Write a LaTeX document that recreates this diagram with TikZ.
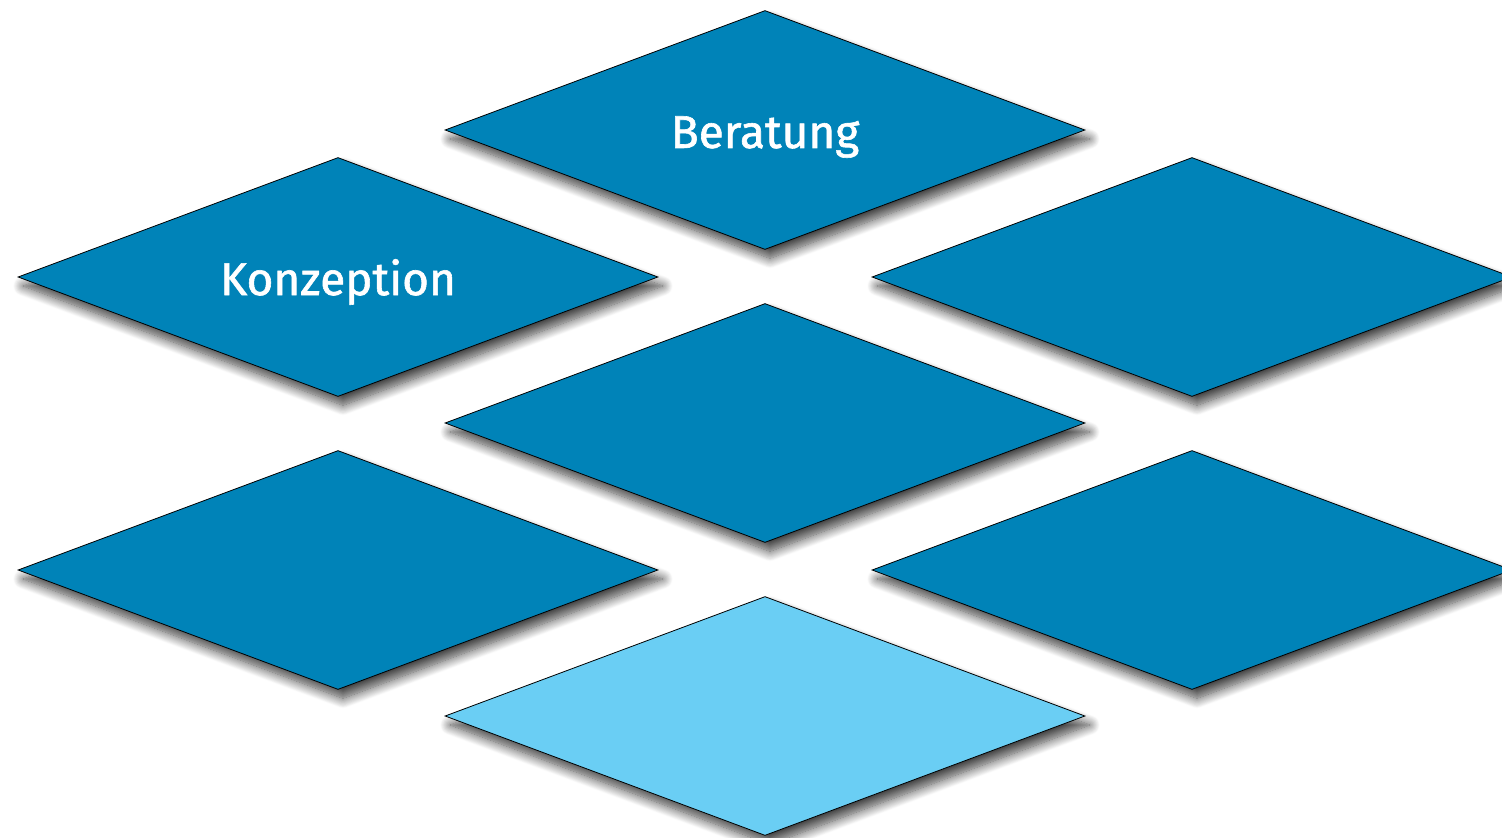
\documentclass[tikz,border=0pt]{standalone}
\usepackage{fontspec}
\setmainfont{Fira Sans}
\newfontfamily\tilefont[FakeBold=1.3]{Fira Sans}
\usetikzlibrary{shapes.geometric,shadows.blur}
\definecolor{tileblue}{HTML}{0083B8}
\definecolor{tilelight}{HTML}{6ACEF4}
\tikzset{
  tile/.style={diamond, draw=black, line width=0.8pt, fill=tileblue,
    minimum width=640pt, minimum height=239pt, inner sep=0pt,
    blur shadow={shadow xshift=5pt, shadow yshift=-9pt, shadow blur radius=10pt, shadow blur steps=14, shadow opacity=75}},
  lighttile/.style={tile, fill=tilelight},
  tiletext/.style={text=white, font=\tilefont\fontsize{46}{50}\selectfont, inner sep=0pt}
}
\begin{document}
\begin{tikzpicture}[x=1pt,y=-1pt]
\useasboundingbox (0,0) rectangle (1502,838);
\clip (0,0) rectangle (1502,838);
\node[tile] (beratung) at (765,130) {};
\node[tile] (konzeption) at (338,277) {};
\node[tile] (rightup) at (1192,277) {};
\node[tile] (center) at (765,423) {};
\node[tile] (leftlow) at (338,570) {};
\node[tile] (rightlow) at (1192,570) {};
\node[lighttile] (bottom) at (765,716) {};
\node[tiletext] (beratungtext) at ([yshift=-7pt]beratung.center) {Beratung};
\node[tiletext] (konzeptiontext) at ([yshift=-5pt]konzeption.center) {Konzeption};
\end{tikzpicture}
\end{document}
